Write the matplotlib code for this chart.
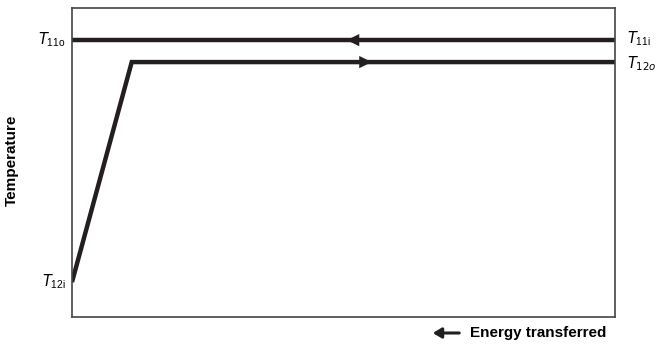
import matplotlib.pyplot as plt
from matplotlib.patches import FancyArrowPatch

plt.rcParams['font.family'] = ['Liberation Sans', 'DejaVu Sans']

# hot stream (flows right to left) and cold stream (heats up then boils)
hot_x = [0.0, 1.0]
hot_y = [0.896, 0.896]
cold_x = [0.0, 0.11, 1.0]
cold_y = [0.113, 0.825, 0.825]

left_labels = ['$T_{\\mathregular{11o}}$', '$T_{\\mathregular{12i}}$']
right_labels = ['$T_{\\mathregular{11i}}$', '$T_{\\mathit{12o}}$']

fig = plt.figure(figsize=(6.7, 3.44), dpi=100)
ax = fig.add_axes([72/670, 1-317/344, 543/670, 309/344])

ax.plot(hot_x, hot_y, color='#231f20', lw=3.2, solid_capstyle='butt')
ax.plot(cold_x, cold_y, color='#231f20', lw=3.2, solid_capstyle='butt',
        solid_joinstyle='miter')

# direction arrows on the lines
head = dict(arrowstyle='-|>,head_length=0.45,head_width=0.22',
            color='#231f20', lw=0, mutation_scale=20, shrinkA=0, shrinkB=0)
ax.annotate('', xy=(0.506, hot_y[0]), xytext=(0.56, hot_y[0]), arrowprops=head)
ax.annotate('', xy=(0.552, cold_y[1]), xytext=(0.50, cold_y[1]), arrowprops=head)

ax.set_xlim(0, 1)
ax.set_ylim(0, 1)
ax.set_xticks([])
ax.set_yticks([])
for s in ax.spines.values():
    s.set_color('#444444')
    s.set_linewidth(1.2)

# stream temperature labels
ax.text(-0.012, hot_y[0], left_labels[0], ha='right', va='center', fontsize=10.5)
ax.text(-0.012, cold_y[0], left_labels[1], ha='right', va='center', fontsize=10.5)
ax.text(1.022, hot_y[0] + 0.005, right_labels[0], ha='left', va='center', fontsize=10.5)
ax.text(1.022, cold_y[1] - 0.005, right_labels[1], ha='left', va='center', fontsize=10.5)

fig.text(12/670, 1-160/344, 'Temperature', rotation=90, ha='center', va='center',
         fontsize=11, fontweight='bold')
fig.text(470/670, 1-340/344, 'Energy transferred', ha='left', va='bottom',
         fontsize=11, fontweight='bold')
fig.add_artist(FancyArrowPatch((462/670, 1-333/344), (430/670, 1-333/344),
                               transform=fig.transFigure,
                               arrowstyle='-|>,head_length=5,head_width=3',
                               color='#231f20', lw=2.2))

fig.savefig('out.png', dpi=100)
